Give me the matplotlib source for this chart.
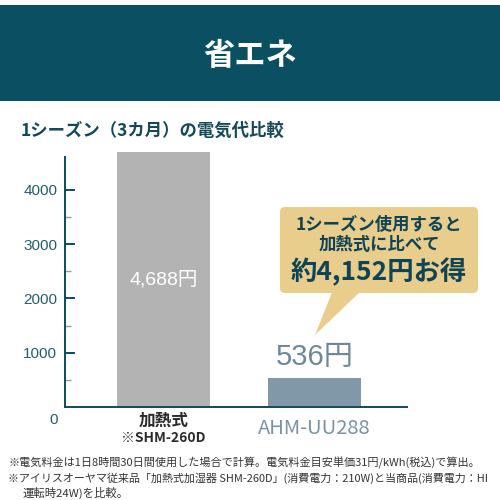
import matplotlib
matplotlib.use('Agg')
import matplotlib.pyplot as plt
from matplotlib.patches import FancyBboxPatch, Polygon, Rectangle
from matplotlib.transforms import blended_transform_factory

plt.rcParams['font.family'] = ['Noto Sans CJK JP', 'DejaVu Sans']

# ---- data ----
categories = ['加熱式', 'AHM-UU288']
sub_labels = ['※SHM-260D', '']
costs = [4688, 536]
value_labels = ['4,688円', '536円']
yticks = [1000, 2000, 3000, 4000]
minor_ticks = [500, 1500, 2500, 3500]
header = '省エネ'
title = '1シーズン（3カ月）の電気代比較'
callout_lines = ['1シーズン使用すると', '加熱式に比べて', '約4,152円お得']
footnotes = [
    '※電気料金は1日8時間30日間使用した場合で計算。電気料金目安単価31円/kWh(税込)で算出。',
    '※アイリスオーヤマ従来品「加熱式加湿器 SHM-260D」(消費電力：210W)と当商品(消費電力：HI',
    '運転時24W)を比較。',
]

W = H = 500
fig = plt.figure(figsize=(5, 5), dpi=100)
fig.patch.set_facecolor('white')


def fx(x):
    return x / W


def fy(y):
    return 1 - y / H


TEAL = '#0b4f63'
DARK = '#15495a'
num_font = ['Liberation Sans', 'Noto Sans CJK JP']

# header band
fig.patches.append(Rectangle((0, fy(101)), 1, (101 - 5) / H, transform=fig.transFigure,
                             facecolor=TEAL, edgecolor='none', zorder=0))
fig.text(0.5, fy(56), header, color='white', fontsize=22.5, fontweight='bold',
         ha='center', va='center')

# title
fig.text(fx(21), fy(131), title, color=DARK, fontsize=12.5, fontweight='bold',
         ha='left', va='center')

# axes
ax = fig.add_axes([fx(65), fy(407), (407 - 65) / W, (407 - 157) / H])
ax.set_facecolor('none')
ax.set_xlim(-0.652, 1.613)
ax.set_ylim(0, 4604)
bar_colors = ['#b3b3b3', '#8198a8']
ax.bar(range(len(costs)), costs, width=0.616, color=bar_colors, clip_on=False, zorder=2)

for s in ['top', 'right']:
    ax.spines[s].set_visible(False)
for s in ['left', 'bottom']:
    ax.spines[s].set_color('#0f4a5c')
    ax.spines[s].set_linewidth(1.4)
    ax.spines[s].set_zorder(3)

ax.set_xticks([])
ax.set_yticks(yticks)
ax.set_yticks(minor_ticks, minor=True)
ax.set_yticklabels([str(v) for v in yticks], family=num_font, fontsize=11, color='#245c6d')
ax.tick_params(axis='y', which='major', direction='in', length=7.5, width=1.4,
               color='#0f4a5c', pad=5.5)
ax.tick_params(axis='y', which='minor', direction='in', length=4.5, width=1.0,
               color='#8fa0a6')
fig.text(fx(58), fy(420), '0', family=num_font, fontsize=11, color='#245c6d',
         ha='right', va='center')

# value labels
ax.text(0, costs[0] / 2, value_labels[0], family=num_font, fontsize=14, color='white',
        ha='center', va='center')
ax.annotate(value_labels[1], xy=(1, costs[1]), xytext=(0, 15), textcoords='offset points',
            family=num_font, fontsize=21, color='#6e8899', ha='center', va='center',
            annotation_clip=False)

# category labels
bt = blended_transform_factory(ax.transData, fig.transFigure)
ax.text(0, fy(421), categories[0], transform=bt, fontsize=12, fontweight='bold',
        color='#2b2b2b', ha='center', va='center')
ax.text(0, fy(438), sub_labels[0], transform=bt, fontsize=10, fontweight='bold',
        color='#2b2b2b', ha='center', va='center')
ax.text(1, fy(429), categories[1], transform=bt, fontsize=14.5,
        color='#7a93a2', ha='center', va='center')

# callout
CALL = '#e8cd8d'
box = FancyBboxPatch((fx(280), fy(293)), (478 - 280) / W, (293 - 207) / H,
                     boxstyle='round,pad=0,rounding_size=0.01', transform=fig.transFigure,
                     facecolor=CALL, edgecolor='none', zorder=1)
fig.patches.append(box)
tail = Polygon([(fx(333), fy(290)), (fx(362), fy(290)), (fx(315), fy(335))],
               closed=True, transform=fig.transFigure, facecolor=CALL, edgecolor='none', zorder=1)
fig.patches.append(tail)
CX = fx(379)
fig.text(CX, fy(225), callout_lines[0], fontsize=12.5, fontweight='bold', color='#0e4455',
         ha='center', va='center')
fig.text(CX, fy(245), callout_lines[1], fontsize=12.5, fontweight='bold', color='#0e4455',
         ha='center', va='center')
fig.text(CX, fy(272), callout_lines[2], fontsize=19, fontweight='bold', color='#0e4455',
         ha='center', va='center')

# footnotes (shrink a line if it would run past its right edge in the reference)
renderer = fig.canvas.get_renderer()
foot_specs = [(8, 463, 480), (8, 478, 490), (23, 493, 490)]
for txt, (x0, y0, xmax) in zip(footnotes, foot_specs):
    t = fig.text(fx(x0), fy(y0), txt, fontsize=8.2, color='#333333', ha='left', va='center')
    ext = t.get_window_extent(renderer)
    if ext.x1 > xmax:
        t.set_fontsize(8.2 * (xmax - x0) / (ext.x1 - x0))

fig.savefig('out.png', dpi=100)
